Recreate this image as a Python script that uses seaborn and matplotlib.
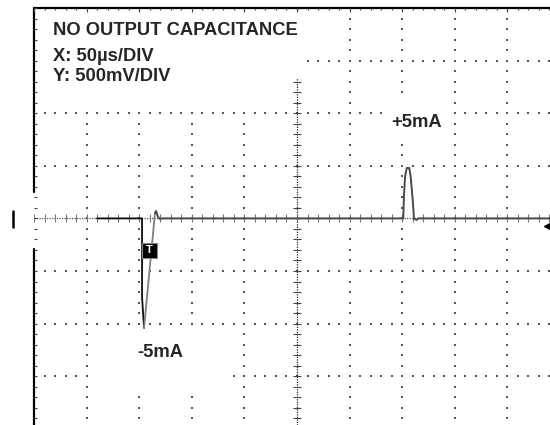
import numpy as np
import pandas as pd
import matplotlib
matplotlib.use("Agg")
import matplotlib.pyplot as plt
import seaborn as sns
from matplotlib.patches import Rectangle

# -----------------------------
# DATA  (time in us, voltage in V)
# -----------------------------
US_PER_DIV = 50
V_PER_DIV = 0.5

fall_t = [59.9, 102.7, 102.7, 104.6]
fall_v = [0.0, 0.0, -0.747, -1.042]

rise_t = [104.6, 115.0]
rise_v = [-1.042, 0.051]

rest_t = [115.0, 116.0, 117.9, 119.8, 121.7, 351.0, 351.7, 352.7, 354.3,
          356.7, 358.1, 360.0, 361.2, 363.8, 365.0, 490.5]
rest_v = [0.051, 0.070, 0.013, -0.006, 0.0, 0.0, 0.222, 0.393, 0.479,
          0.479, 0.393, 0.175, 0.0, -0.015, 0.0, 0.0]

title_lines = ["NO OUTPUT CAPACITANCE", "X: 50\u00b5s/DIV", "Y: 500mV/DIV"]
pos_label = "+5mA"
neg_label = "-5mA"

# -----------------------------
# FIGURE SETUP
# -----------------------------
sns.set_style("white")
plt.rcParams["font.family"] = ["Liberation Sans", "DejaVu Sans"]

W, H = 550, 425
DIV = 52.6          # px per division
X0, Y0 = 34, 218.4  # left edge / centre line in px

fig = plt.figure(figsize=(5.5, 4.25), dpi=100)
ax = fig.add_axes([X0 / W, 0, (W - X0) / W, (H - 8) / H])
xmax = (W - X0) / DIV * US_PER_DIV
ymin = -(H - Y0) / DIV * V_PER_DIV
ymax = 4 * V_PER_DIV
ax.set_xlim(0, xmax)
ax.set_ylim(ymin, ymax)
ax.axis("off")


def px(x, y):
    # pixel position -> data units
    return (x - X0) / DIV * US_PER_DIV, (Y0 - y) / DIV * V_PER_DIV


# -----------------------------
# GRATICULE
# -----------------------------
fine_x = np.arange(0, 10.01, 0.2) * US_PER_DIV
fine_y = np.arange(-4, 4.01, 0.2) * V_PER_DIV
dots = []
for k in range(1, 10):
    if k == 5:
        continue
    for y in fine_y:
        dots.append((k * US_PER_DIV, y))
for k in range(-3, 4):
    if k == 0:
        continue
    for x in fine_x:
        dots.append((x, k * V_PER_DIV))
dots = np.array(dots)
ax.scatter(dots[:, 0], dots[:, 1], s=1.3, marker="s", color="#555555",
           linewidths=0, zorder=1)

# centre cross
cx = 5 * US_PER_DIV
ax.plot([cx, cx], [ymin, ymax], color="#222222", lw=0.9, ls=(0, (1, 1)), zorder=1)
ax.plot([0, xmax], [0, 0], color="#555555", lw=0.9, ls=(0, (1, 1)), zorder=1)
tx = 4 / DIV * US_PER_DIV
ty = 4 / DIV * V_PER_DIV
ax.hlines(fine_y, cx - tx, cx + tx, color="#444444", lw=0.8, zorder=1)
ax.vlines(fine_x, -ty, ty, color="#777777", lw=0.8, zorder=1)

# white boxes behind the labels
for (x1, y1, x2, y2) in [(40, 12, 303, 78), (40, 78, 285, 108),
                         (383, 100, 452, 140), (95, 328, 225, 390)]:
    a, b = px(x1, y2)
    c, d = px(x2, y1)
    ax.add_patch(Rectangle((a, b), c - a, d - b, facecolor="white",
                           edgecolor="none", zorder=2))

# border (top and left) with small ticks
ax.plot([0, xmax], [ymax, ymax], color="black", lw=1.6, zorder=3, clip_on=False)
ax.plot([0, 0], [ymax, px(0, 192)[1]], color="black", lw=1.6, zorder=3, clip_on=False)
ax.plot([0, 0], [px(0, 249)[1], ymin], color="black", lw=1.6, zorder=3, clip_on=False)
ax.vlines(fine_x, ymax - 2.5 / DIV * V_PER_DIV, ymax, color="#444444", lw=0.8, zorder=3)
ax.vlines(np.arange(0, 11) * US_PER_DIV, ymax - 4.5 / DIV * V_PER_DIV, ymax,
          color="#444444", lw=0.8, zorder=3)
ax.hlines(fine_y, 0, 3 / DIV * US_PER_DIV, color="#444444", lw=0.8, zorder=3)

# -----------------------------
# TRACE
# -----------------------------
fall_df = pd.DataFrame({"t": fall_t, "v": fall_v})
rise_df = pd.DataFrame({"t": rise_t, "v": rise_v})
rest_df = pd.DataFrame({"t": rest_t, "v": rest_v})
sns.lineplot(data=fall_df, x="t", y="v", sort=False, estimator=None,
             color="#111111", lw=1.3, ax=ax, zorder=4)
sns.lineplot(data=rise_df, x="t", y="v", sort=False, estimator=None,
             color="#808080", lw=1.3, ax=ax, zorder=4)
sns.lineplot(data=rest_df, x="t", y="v", sort=False, estimator=None,
             color="#4a4a4a", lw=1.4, ax=ax, zorder=4)
ax.axis("off")

# trigger marker
a, b = px(142, 258)
c, d = px(157, 243)
ax.add_patch(Rectangle((a, b), c - a, d - b, facecolor="black",
                       edgecolor="#888888", lw=0.8, zorder=5))
ax.text((a + c) / 2, (b + d) / 2, "T", color="white", fontsize=8,
        fontweight="bold", ha="center", va="center", zorder=6)

# ground marker and trigger level arrow
gx, gy1 = px(12.7, 211)
_, gy2 = px(12.7, 227)
ax.plot([gx, gx], [gy1, gy2], color="black", lw=1.8, clip_on=False, zorder=5)
ax.plot(*px(547, 226), marker="<", ms=5, color="black", clip_on=False, zorder=5)

# -----------------------------
# LABELS
# -----------------------------
fs = 13.2
for txt, (x, y) in zip(title_lines, [(53, 35), (53, 61), (53, 81)]):
    fig.text(x / W, 1 - y / H, txt, fontsize=fs, fontweight="bold",
             ha="left", va="baseline", zorder=7)
fig.text(391 / W, 1 - 127 / H, pos_label, fontsize=fs, fontweight="bold",
         ha="left", va="baseline")
fig.text(137 / W, 1 - 357 / H, neg_label, fontsize=fs, fontweight="bold",
         ha="left", va="baseline")

fig.savefig("out.png", dpi=100)
